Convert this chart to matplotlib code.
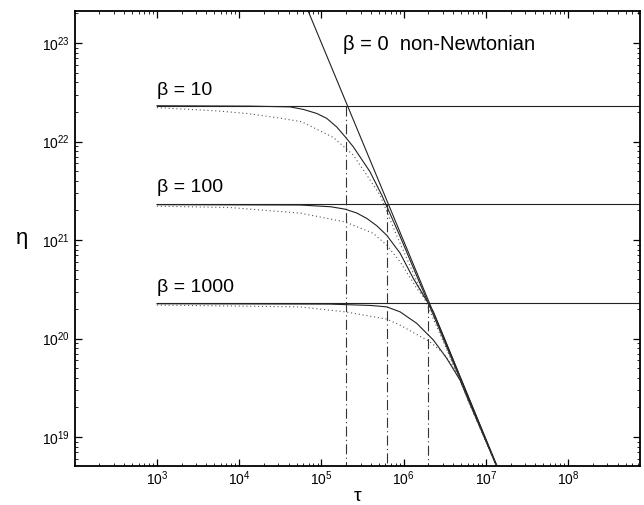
import numpy as np
import matplotlib
matplotlib.use("Agg")
import matplotlib.pyplot as plt
from matplotlib.ticker import LogLocator, NullFormatter

matplotlib.rcParams["font.family"] = ["Liberation Sans", "DejaVu Sans"]
matplotlib.rcParams["mathtext.fontset"] = "custom"
matplotlib.rcParams["mathtext.rm"] = "Liberation Sans"
matplotlib.rcParams["mathtext.it"] = "Liberation Sans:italic"

# Values (stress tau, viscosity eta).
betas = [10, 100, 1000]
eta0 = [2.3e22, 2.3e21, 2.3e20]          # Newtonian viscosities
tau_cross = [2.0e5, 6.3e5, 2.0e6]        # where Newtonian meets power law
newt_tau = [1e3, 1e9]

# beta = 0, non-Newtonian power law (slope -2)
nn_tau = [6.9e4, 1.37e7]
nn_eta = [2.11e23, 5.08e18]

# composite (solid) curves
solid10_tau = [1e3, 1.35e4, 4.15e4, 6.03e4, 8.77e4, 1.16e5, 1.53e5, 1.94e5, 2.44e5, 3.90e5, 5.42e5, 8.92e5, 3.47e6, 1.35e7]
solid10_eta = [2.31e22, 2.29e22, 2.25e22, 2.12e22, 1.93e22, 1.72e22, 1.41e22, 1.12e22, 8.85e21, 4.93e21, 2.86e21, 1.12e21, 7.65e19, 5.08e18]
solid100_tau = [1e3, 5.49e4, 1.30e5, 1.94e5, 2.70e5, 3.56e5, 4.70e5, 6.22e5, 9.04e5, 1.31e6, 2.30e6, 3.67e6, 1.35e7]
solid100_eta = [2.29e21, 2.27e21, 2.18e21, 2.06e21, 1.88e21, 1.66e21, 1.40e21, 1.12e21, 7.38e20, 4.08e20, 1.87e20, 7.29e19, 5.08e18]
solid1000_tau = [1e3, 1.27e5, 4.00e5, 6.22e5, 9.04e5, 1.44e6, 2.30e6, 3.34e6, 4.85e6, 6.10e6, 1.35e7]
solid1000_eta = [2.26e20, 2.24e20, 2.17e20, 2.10e20, 1.87e20, 1.43e20, 9.66e19, 6.30e19, 3.79e19, 2.38e19, 5.08e18]

# dotted curves
dot10_tau = [1e3, 5.33e3, 1.23e4, 3.13e4, 5.75e4, 1.40e5, 2.44e5, 3.56e5, 5.16e5, 8.20e5, 3.37e6, 1.35e7]
dot10_eta = [2.21e22, 2.05e22, 1.93e22, 1.73e22, 1.59e22, 1.10e22, 7.29e21, 4.57e21, 2.86e21, 1.12e21, 7.64e19, 5.08e18]
dot100_tau = [1e3, 7.78e3, 5.49e4, 1.94e5, 4.28e5, 6.22e5, 9.04e5, 1.44e6, 2.09e6, 3.47e6, 1.35e7]
dot100_eta = [2.21e21, 2.14e21, 1.88e21, 1.53e21, 1.17e21, 8.89e20, 6.03e20, 3.24e20, 2.19e20, 7.29e19, 5.08e18]
dot1000_tau = [1e3, 5.49e4, 1.94e5, 6.22e5, 9.04e5, 2.09e6, 3.04e6, 4.70e6, 6.00e6, 1.35e7]
dot1000_eta = [2.19e20, 2.10e20, 1.87e20, 1.58e20, 1.37e20, 9.27e19, 7.13e19, 4.26e19, 2.38e19, 5.08e18]

label_eta = [3.0e22, 3.05e21, 3.0e20]

solids = [(solid10_tau, solid10_eta), (solid100_tau, solid100_eta), (solid1000_tau, solid1000_eta)]
dots = [(dot10_tau, dot10_eta), (dot100_tau, dot100_eta), (dot1000_tau, dot1000_eta)]

fig = plt.figure(figsize=(6.44, 5.05), dpi=100)
ax = fig.add_axes([0.116, 0.077, 0.878, 0.901])
ax.set_xscale("log")
ax.set_yscale("log")
ax.set_xlim(1e2, 7.5e8)
ax.set_ylim(5.08e18, 2.11e23)

lc = "#222222"
ax.plot(nn_tau, nn_eta, color=lc, lw=0.8)
for i, b in enumerate(betas):
    ax.plot(newt_tau, [eta0[i], eta0[i]], color=lc, lw=0.8)
    ax.plot(*solids[i], color=lc, lw=0.8)
    ax.plot(*dots[i], color="#555555", lw=0.8, linestyle=(0, (1, 2.5)))
    ax.plot([tau_cross[i], tau_cross[i]], [eta0[i], 1e18], color="#333333", lw=0.8,
            linestyle=(0, (9, 3, 1, 3)))
    ax.text(1e3, label_eta[i], "β = " + str(b), fontsize=14, ha="left", va="baseline")

ax.text(1.85e5, 8.5e22, "β = 0  non-Newtonian", fontsize=14.5, ha="left", va="baseline")

ax.set_xticks([1e3, 1e4, 1e5, 1e6, 1e7, 1e8])
ax.set_yticks([1e19, 1e20, 1e21, 1e22, 1e23])
ax.xaxis.set_minor_locator(LogLocator(base=10, subs=np.arange(2, 10), numticks=20))
ax.yaxis.set_minor_locator(LogLocator(base=10, subs=np.arange(2, 10), numticks=20))
ax.xaxis.set_minor_formatter(NullFormatter())
ax.yaxis.set_minor_formatter(NullFormatter())
ax.tick_params(which="both", direction="in", top=True, right=True, labelsize=10)
ax.tick_params(which="major", length=5, width=0.9)
ax.tick_params(axis="x", which="major", pad=2.5)
ax.tick_params(which="minor", length=2.5, width=0.6)
for s in ax.spines.values():
    s.set_linewidth(1.3)

ax.set_xlabel("τ", fontsize=14, labelpad=0)
ax.set_ylabel("η", fontsize=16, rotation=0, labelpad=14, va="center")

fig.savefig("out.png", dpi=100)
